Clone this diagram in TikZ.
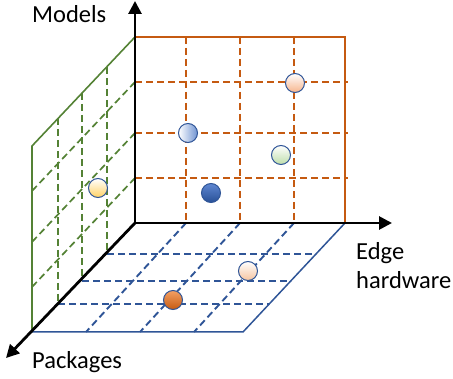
\documentclass[tikz,border=0pt]{standalone}
\usepackage{fontspec}
\setmainfont{Carlito}
\usetikzlibrary{arrows.meta,calc}
\definecolor{orangeline}{HTML}{C55A11}
\definecolor{greenline}{HTML}{548235}
\definecolor{blueline}{HTML}{2F5597}
\definecolor{ballrim}{HTML}{2F5597}
\tikzset{
  axisline/.style={line width=2.8pt, -{Triangle[length=13pt,width=13pt]}},
  orangesolid/.style={orangeline, line width=2pt},
  orangedash/.style={orangeline, line width=2.1pt, dash pattern=on 7pt off 4pt},
  greensolid/.style={greenline, line width=1.6pt},
  greendash/.style={greenline, line width=1.7pt, dash pattern=on 7pt off 4pt},
  bluesolid/.style={blueline, line width=1.5pt},
  bluedash/.style={blueline, line width=1.9pt, dash pattern=on 7pt off 4pt},
  ball/.style={circle, draw=ballrim, line width=1pt, minimum size=19pt, inner sep=0pt},
  lbl/.style={font=\fontsize{24.5}{28}\selectfont, inner sep=0pt, anchor=base west}
}
\begin{document}
\begin{tikzpicture}[x=1pt,y=-1pt]
\useasboundingbox (0,0) rectangle (453,379);
% key points
\coordinate (O) at (135,223);
\coordinate (T) at (135,37);
\coordinate (R) at (345,223);
\coordinate (TR) at (345,37);
\coordinate (FL) at (32,332);
\coordinate (FR) at (243,332);
\coordinate (FT) at (32,146);
\coordinate (ytip) at (135,1);
\coordinate (xtip) at (392,223);
\coordinate (ztip) at (6,358);
% depth divisions: floor points on the depth axis
\coordinate (P1) at (107,254);
\coordinate (P2) at (82,281);
\coordinate (P3) at (58,304);
% tops of the green verticals
\coordinate (W1) at (107,67);
\coordinate (W2) at (82,93);
\coordinate (W3) at (58,118);
% right edge of floor at same depths
\coordinate (Q1) at (316,254);
\coordinate (Q2) at (291,281);
\coordinate (Q3) at (269,304);

% orange back wall
\foreach \x in {186,240,294} \draw[orangedash] (\x,37) -- (\x,223);
\foreach \y in {82,133,178} \draw[orangedash] (135,\y) -- (348,\y);
\draw[orangesolid] (T) -- (TR) -- (R);

% green side wall
\foreach \k in {1,2,3} \draw[greendash] (W\k) -- (P\k);
\foreach \y in {82,133,178} \draw[greendash] (135,\y) -- ++(-103,109);
\draw[greensolid] (T) -- (FT) -- (FL);

% blue floor
\foreach \x in {186,240,294} \draw[bluedash] (\x,223) -- ++(-100,109);
\foreach \k in {1,2,3} \draw[bluedash] (P\k) -- (Q\k);
\draw[bluesolid] (R) -- (FR) -- (FL);

% axes
\draw[axisline] (O) -- (ytip);
\draw[axisline] (O) -- (xtip);
\draw[axisline] (O) -- (ztip);

% balls
\node[ball, top color=white, bottom color={rgb,255:red,246;green,180;blue,140}] (b1) at (295,83) {};
\node[ball, left color=white, right color={rgb,255:red,111;green,147;blue,210}] (b2) at (188,133) {};
\node[ball, top color=white, bottom color={rgb,255:red,190;green,222;blue,170}] (b3) at (281,155) {};
\node[ball, top color={rgb,255:red,95;green,135;blue,210}, bottom color={rgb,255:red,40;green,80;blue,150}] (b4) at (211,193) {};
\node[ball, top color=white, bottom color={rgb,255:red,255;green,210;blue,100}] (b5) at (98,188) {};
\node[ball, top color=white, bottom color={rgb,255:red,246;green,196;blue,160}] (b6) at (248,271) {};
\node[ball, top color={rgb,255:red,244;green,160;blue,100}, bottom color={rgb,255:red,197;green,90;blue,17}] (b7) at (173,300) {};

% labels
\node[lbl] (models) at (32,23) {Models};
\node[lbl] (edge1) at (356,260) {Edge};
\node[lbl] (edge2) at (356,289) {hardware};
\node[lbl] (pack) at (32,369) {Packages};
\end{tikzpicture}
\end{document}
